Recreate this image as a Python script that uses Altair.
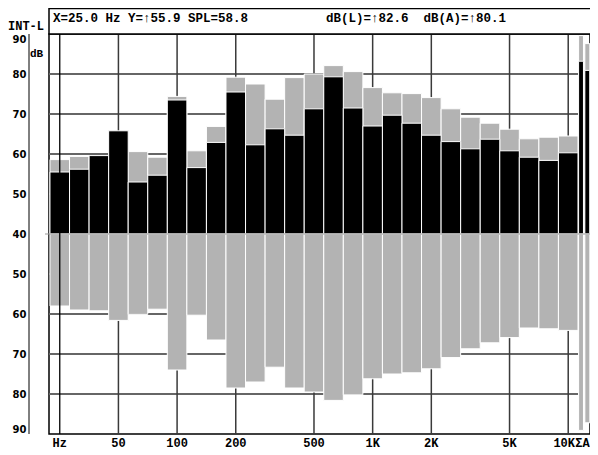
import altair as alt
import pandas as pd

# ---- data ----
bands = ["25", "31.5", "40", "50", "63", "80", "100", "125", "160", "200", "250",
         "315", "400", "500", "630", "800", "1k", "1.25k", "1.6k", "2k", "2.5k",
         "3.15k", "4k", "5k", "6.3k", "8k", "10k", "L", "A"]
black_db = [55.5, 56.2, 59.6, 65.8, 53.0, 54.7, 73.5, 56.6, 62.9, 75.5, 62.3,
            66.3, 64.7, 71.3, 79.3, 71.5, 67.0, 69.7, 67.7, 64.7, 63.1,
            61.3, 63.7, 60.8, 59.2, 58.4, 60.3, 83.2, 80.9]
gray_up_db = [58.6, 59.4, 59.2, 61.6, 60.6, 59.2, 74.4, 60.8, 66.9, 79.2, 77.5,
              73.7, 79.1, 80.0, 82.1, 80.6, 76.6, 75.3, 75.1, 74.1, 71.3,
              69.2, 67.7, 66.2, 63.8, 64.2, 64.5, 89.6, 87.6]
gray_dn_db = [58.0, 59.0, 59.2, 61.6, 60.1, 58.8, 74.0, 60.3, 66.5, 78.5, 77.0,
              73.3, 78.5, 79.5, 81.6, 80.2, 76.2, 75.0, 74.7, 73.7, 70.9,
              68.7, 67.2, 65.9, 63.5, 63.7, 64.1, 89.1, 87.2]
tick_pos = [0, 3, 6, 9, 13, 16, 19, 23, 26]
tick_text = ["Hz", "50", "100", "200", "500", "1K", "2K", "5K", "10K"]
sum_label = ["ΣA"]
grid_db = [50, 60, 70, 80]
header_left = ["X=25.0 Hz Y=↑55.9 SPL=58.8"]
header_right = ["dB(L)=↑82.6\u00a0\u00a0dB(A)=↑80.1"]
corner_label = ["INT-L"]
unit_label = ["dB"]

# bar extents on the band-index axis (1/3-octave bands full width, sums narrow)
n_oct = len(bands) - 2
x0 = [i - 0.5 for i in range(n_oct)] + [n_oct - 0.47, n_oct - 0.15]
x1 = [i + 0.5 for i in range(n_oct)] + [n_oct - 0.22, n_oct + 0.10]

df = pd.DataFrame({"band": bands, "x0": x0, "x1": x1, "black": black_db,
                   "gray_up": gray_up_db, "gray_dn": gray_dn_db})

W, H = 541, 400
xs = alt.Scale(domain=[-0.55, 27.114], nice=False, zero=False)
ys = alt.Scale(domain=[-50, 50], nice=False, zero=False)

yaxis = alt.Axis(values=list(range(-50, 51, 10)),
                 labelExpr="'' + (abs(datum.value) + 40)",
                 ticks=False, domain=False, offset=20, grid=False,
                 labelFlush=True, labelFont="DejaVu Sans",
                 labelFontWeight="bold", labelFontSize=10,
                 labelColor="black", labelPadding=3, title=None)


def Y(field):
    return alt.Y(field, scale=ys, axis=yaxis)


base = alt.Chart(df)

# horizontal grid
gdf = pd.DataFrame({"db": grid_db})
hgrid_up = alt.Chart(gdf).transform_calculate(
    gy="datum.db - 40", ga="-0.55", gb="26.5").mark_rule(
    color="#666", strokeWidth=2).encode(
    y=Y("gy:Q"), x=alt.X("ga:Q", scale=xs, axis=None), x2="gb:Q")
hgrid_dn = alt.Chart(gdf).transform_calculate(
    gy="40 - datum.db", ga="-0.55", gb="26.5").mark_rule(
    color="#666", strokeWidth=2).encode(
    y=Y("gy:Q"), x=alt.X("ga:Q", scale=xs, axis=None), x2="gb:Q")

# vertical grid (decade marks)
vdf = pd.DataFrame({"pos": tick_pos[1:]})
vgrid = alt.Chart(vdf).mark_rule(color="#3a3a3a", strokeWidth=1.5).encode(
    x=alt.X("pos:Q", scale=xs, axis=None))

gray_up = base.transform_calculate(h="datum.gray_up - 40", z="0").mark_rect(
    color="#b3b3b3", stroke="white", strokeWidth=1).encode(
    x=alt.X("x0:Q", scale=xs, axis=None), x2="x1:Q", y=Y("h:Q"), y2="z:Q")
black = base.transform_calculate(h="datum.black - 40", z="0").mark_rect(
    color="black", stroke="white", strokeWidth=1).encode(
    x=alt.X("x0:Q", scale=xs, axis=None), x2="x1:Q", y=Y("h:Q"), y2="z:Q")
gray_dn = base.transform_calculate(h="40 - datum.gray_dn", z="0").mark_rect(
    color="#b3b3b3", stroke="white", strokeWidth=1).encode(
    x=alt.X("x0:Q", scale=xs, axis=None), x2="x1:Q", y=Y("h:Q"), y2="z:Q")

baseline = alt.Chart(pd.DataFrame({"db": [40]})).transform_calculate(
    gy="datum.db - 40").mark_rule(color="#999", strokeWidth=1).encode(
    y=Y("gy:Q"), x=alt.value(-4), x2=alt.value(W))

hz_line = alt.Chart(pd.DataFrame({"pos": tick_pos[:1]})).mark_rule(
    color="black", strokeWidth=1.3).encode(x=alt.X("pos:Q", scale=xs, axis=None))

# y axis line (offset left of the plot frame)
yline = alt.Chart(pd.DataFrame({"k": [0]})).mark_rule(
    color="black", strokeWidth=1).encode(
    x=alt.value(-20), y=alt.value(0), y2=alt.value(H))

# x tick labels
lab_font = dict(baseline="middle", font="Liberation Mono", fontWeight="bold",
                fontSize=12, color="black")
tdf = pd.DataFrame({"pos": tick_pos, "lab": tick_text})
xlab = alt.Chart(tdf.iloc[:-1]).mark_text(**lab_font).encode(
    x=alt.X("pos:Q", scale=xs, axis=None), y=alt.value(H + 9), text="lab:N")
xlab_last = alt.Chart(tdf.iloc[-1:]).mark_text(dx=-4, **lab_font).encode(
    x=alt.X("pos:Q", scale=xs, axis=None), y=alt.value(H + 9), text="lab:N")
sumlab = base.transform_filter("datum.band == 'A'").transform_calculate(
    lab="'" + sum_label[0] + "'").mark_text(align="right", **lab_font).encode(
    x=alt.X("x1:Q", scale=xs, axis=None), y=alt.value(H + 9), text="lab:N")

# header box and texts
hbox = alt.Chart(pd.DataFrame({"k": [0]})).mark_rect(
    fill="white", stroke="black", strokeWidth=1.5).encode(
    x=alt.value(0), x2=alt.value(W + 10), y=alt.value(-25.5), y2=alt.value(0))


def txt(s, x, y, size=12.5, align="left"):
    return alt.Chart(pd.DataFrame({"t": s})).mark_text(
        align=align, baseline="middle", font="Liberation Mono",
        fontWeight="bold", fontSize=size, color="black").encode(
        text="t:N", x=alt.value(x), y=alt.value(y))


h1 = txt(header_left, 4, -16)
h2 = txt(header_right, 277, -16)
c1 = txt(corner_label, -41, -8, size=12)
u1 = txt(unit_label, -19, 20, size=11)

chart = alt.layer(
    hgrid_up, hgrid_dn, vgrid, gray_up, black, gray_dn, baseline, hz_line,
    yline, xlab, xlab_last, sumlab, hbox, h1, h2, c1, u1
).properties(
    width=W, height=H,
    autosize=alt.AutoSizeParams(type="none"),
    padding={"left": 41, "top": 26, "right": 0, "bottom": 16},
    background="white"
).configure_view(stroke="black", strokeWidth=1.5)

chart.save("out.html", embed_options={"renderer": "svg", "actions": False})
